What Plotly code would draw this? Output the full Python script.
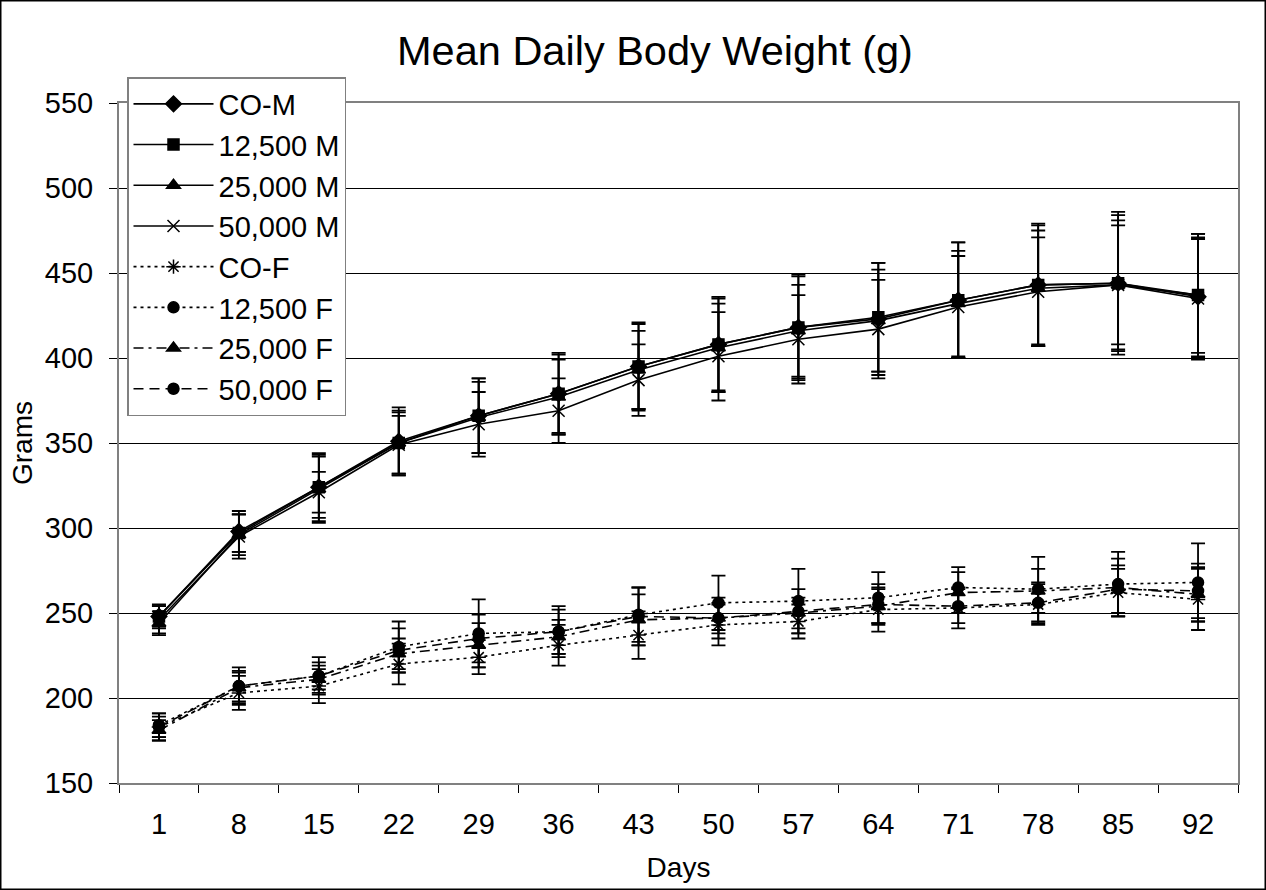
import plotly.graph_objects as go

days = ["1", "8", "15", "22", "29", "36", "43", "50", "57", "64", "71", "78", "85", "92"]

series_names = ["CO-M", "12,500 M", "25,000 M", "50,000 M", "CO-F", "12,500 F", "25,000 F", "50,000 F"]

co_m = [248, 298, 324, 351, 366, 379, 395, 408, 418, 423, 434, 443, 444, 436]
m12500 = [248, 297, 324, 350, 366, 379, 395, 408, 418, 424, 434, 443, 444, 437]
m25000 = [244, 296, 323, 350, 365, 377, 393, 406, 416, 422, 432, 441, 443, 437]
m50000 = [246, 295, 321, 349, 361, 369, 387, 401, 411, 417, 430, 439, 443, 435]

co_f = [183, 203, 207, 220, 224, 231, 237, 243, 245, 252, 253, 255, 262, 258]
f12500 = [184, 207, 213, 230, 238, 239, 249, 256, 257, 259, 265, 264, 267, 268]
f25000 = [181, 206, 211, 226, 231, 236, 246, 247, 250, 254, 262, 263, 265, 261]
f50000 = [183, 207, 213, 228, 235, 239, 248, 247, 251, 255, 254, 256, 264, 263]

err_co_m = [7, 12, 20, 20, 22, 23, 26, 28, 30, 33, 34, 36, 42, 37]
err_m12500 = [6, 11, 18, 18, 22, 24, 25, 27, 31, 32, 34, 35, 40, 36]
err_m25000 = [7, 12, 20, 19, 21, 22, 23, 26, 27, 30, 31, 34, 38, 34]
err_m50000 = [8, 13, 12, 17, 19, 19, 21, 26, 26, 29, 30, 32, 35, 35]

err_co_f = [8, 10, 10, 12, 10, 12, 14, 12, 10, 13, 12, 12, 14, 18]
err_f12500 = [7, 11, 11, 15, 20, 15, 16, 16, 19, 15, 12, 19, 19, 23]
err_f25000 = [6, 9, 8, 9, 13, 10, 15, 9, 9, 10, 12, 13, 17, 16]
err_f50000 = [6, 9, 8, 13, 14, 13, 17, 12, 13, 12, 10, 12, 14, 16]

values = [co_m, m12500, m25000, m50000, co_f, f12500, f25000, f50000]
errors = [err_co_m, err_m12500, err_m25000, err_m50000, err_co_f, err_f12500, err_f25000, err_f50000]

symbols = ["diamond", "square", "triangle-up", "x-thin-open", "asterisk-open", "circle", "triangle-up", "circle"]
dashes = ["solid", "solid", "solid", "solid", "3px,4px", "3px,4px", "10px,5px,3px,5px", "10px,6px"]
msizes = [12, 11, 12, 12, 12, 11, 12, 11]

fig = go.Figure()
for name, y, e, sym, dash, ms in zip(series_names, values, errors, symbols, dashes, msizes):
    fig.add_trace(go.Scatter(
        x=days, y=y, name=name, mode="lines+markers",
        line=dict(color="black", width=1.6, dash=dash),
        marker=dict(symbol=sym, size=ms, color="black", line=dict(color="black", width=1.5)),
        error_y=dict(type="data", array=e, visible=True, color="black", thickness=1.8, width=7),
    ))

L, R, T, B = 119, 28, 103, 107
W, H = 1266, 890
pw, ph = W - L - R, H - T - B

fig.update_layout(
    width=W, height=H,
    margin=dict(l=L, r=R, t=T, b=B),
    paper_bgcolor="white", plot_bgcolor="white",
    font=dict(family="Liberation Sans, Arial, sans-serif", color="black", size=28),
    title=dict(text="Mean Daily Body Weight (g)", x=655 / W, xanchor="center",
               y=1 - 50 / H, yanchor="middle", font=dict(size=41.5)),
    showlegend=True,
    legend=dict(x=(127 - L) / pw, y=1 + (T - 77) / ph, xanchor="left", yanchor="top",
                bgcolor="white", bordercolor="#808080", borderwidth=1.5,
                font=dict(size=29), itemwidth=80, tracegroupgap=0),
    xaxis=dict(type="category", range=[-0.5, 13.5], autorange=False,
               title=dict(text="Days", font=dict(size=28), standoff=19),
               showgrid=False, ticks="outside", tickson="boundaries", ticklen=8,
               tickcolor="black", showline=True, linecolor="#808080", linewidth=2,
               mirror=True, tickfont=dict(size=29), ticklabelstandoff=14),
    yaxis=dict(range=[150, 550], dtick=50, title=dict(text="Grams", font=dict(size=28), standoff=4),
               showgrid=True, gridcolor="black", gridwidth=1, ticks="outside", ticklen=8,
               tickcolor="black", showline=True, linecolor="#808080", linewidth=2,
               mirror=True, tickfont=dict(size=29), zeroline=False, ticklabelstandoff=10),
    shapes=[dict(type="rect", xref="paper", yref="paper",
                 x0=(0.75 - L) / pw, x1=(W - 0.75 - L) / pw,
                 y0=-(B - 0.75) / ph, y1=1 + (T - 0.75) / ph,
                 line=dict(color="black", width=1.5), layer="above")],
)

fig.write_html("out.html", config={"displayModeBar": False},
               post_script="document.body.style.margin='0px';document.body.style.overflow='hidden';")
